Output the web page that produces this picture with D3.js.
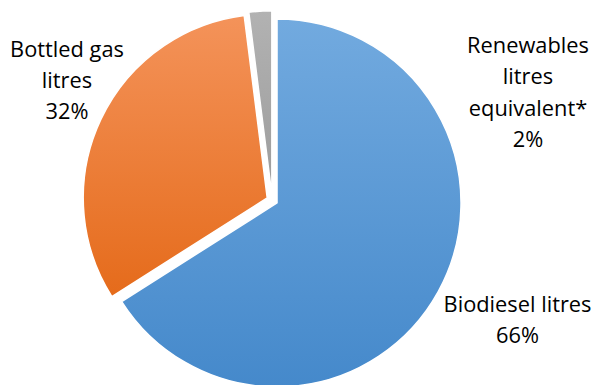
<!DOCTYPE html>
<html>
<head>
<meta charset="utf-8">
<script src="https://cdn.jsdelivr.net/npm/d3@7"></script>
<style>
  html, body { margin: 0; padding: 0; background: #fff; }
  svg { display: block; }
  text { font-family: "Open Sans", "Liberation Sans", sans-serif; fill: #000; }
</style>
</head>
<body>
<svg id="chart" width="595" height="385"></svg>
<script>
// ---- data ----
const categories = ["Biodiesel litres", "Bottled gas litres", "Renewables litres equivalent*"];
const values = [66, 32, 2];
const labelLines = [["Biodiesel litres", "66%"], ["Bottled gas", "litres", "32%"], ["Renewables", "litres", "equivalent*", "2%"]];
const topColors = ["#72aadf", "#f4935a", "#b2b2b2"];
const bottomColors = ["#4589cb", "#e56b1b", "#9c9c9c"];

// ---- layout ----
const W = 595, H = 385;
const cx = 272.2, cy = 200.3, r = 184, explode = 5.5;
const fontSize = 21.8, lineH = 31.3;
// label anchors (center x, first baseline y)
const labelPos = [[517.5, 311.5], [67, 56.5], [528, 53]];

const svg = d3.select("#chart");
const defs = svg.append("defs");
categories.forEach((c, i) => {
  const g = defs.append("linearGradient").attr("id", "grad" + i)
    .attr("x1", 0).attr("y1", 0).attr("x2", 0).attr("y2", 1);
  g.append("stop").attr("offset", "0%").attr("stop-color", topColors[i]);
  g.append("stop").attr("offset", "100%").attr("stop-color", bottomColors[i]);
});

const pie = d3.pie().sort(null).value(d => d)(values);
const arc = d3.arc().innerRadius(0).outerRadius(r);

const gPie = svg.append("g").attr("transform", `translate(${cx},${cy})`);
gPie.selectAll("path").data(pie).join("path")
  .attr("d", arc)
  .attr("transform", d => {
    const a = (d.startAngle + d.endAngle) / 2;
    return `translate(${Math.sin(a) * explode},${-Math.cos(a) * explode})`;
  })
  .attr("fill", (d, i) => `url(#grad${i})`)
  .attr("stroke", "#fff")
  .attr("stroke-width", 1.5)
  .attr("stroke-linejoin", "round");

labelLines.forEach((lines, i) => {
  const t = svg.append("text")
    .attr("text-anchor", "middle")
    .attr("font-size", fontSize)
    .attr("x", labelPos[i][0]).attr("y", labelPos[i][1]);
  lines.forEach((ln, j) => {
    t.append("tspan").attr("x", labelPos[i][0]).attr("y", labelPos[i][1] + j * lineH).text(ln);
  });
});
</script>
</body>
</html>
